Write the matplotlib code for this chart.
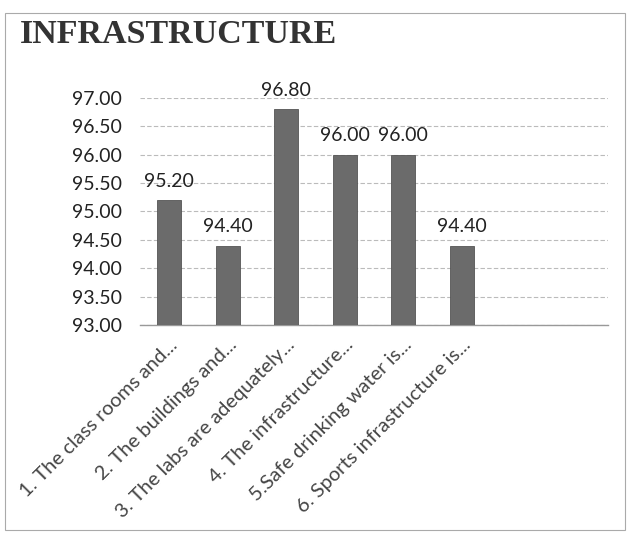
import matplotlib
matplotlib.use('Agg')
import matplotlib.pyplot as plt
from matplotlib.patches import Rectangle

# Данные
categories = ['1. The class rooms and...', '2. The buildings and...',
              '3. The labs are adequately...', '4. The infrastructure...',
              '5.Safe drinking water is...', '6. Sports infrastructure is...',
              '', '']
values = [95.20, 94.40, 96.80, 96.00, 96.00, 94.40]
y_ticks = [93.0, 93.5, 94.0, 94.5, 95.0, 95.5, 96.0, 96.5, 97.0]

fig = plt.figure(figsize=(6.3, 5.35), dpi=100)
ax = fig.add_axes([0.222, 0.3925, 0.743, 0.4245])

x = list(range(len(categories)))
bars = ax.bar(x[:len(values)], values, width=0.41, color='#6b6b6b',
              edgecolor='#555555', linewidth=0.6, zorder=3)

ax.set_xlim(-0.5, len(categories) - 0.5)
ax.set_ylim(93.0, 97.0)
ax.set_yticks(y_ticks)
ax.set_yticklabels([f'{v:.2f}' for v in y_ticks], fontsize=14,
                   family=['Lato', 'DejaVu Sans'], color='#222222')
ax.set_xticks(x)
ax.set_xticklabels(categories, rotation=45, ha='right', rotation_mode='anchor',
                   fontsize=14.5, family=['Lato', 'DejaVu Sans'], color='#444444')
ax.tick_params(axis='both', length=0)
ax.tick_params(axis='y', pad=13)
ax.tick_params(axis='x', pad=8)

ax.grid(axis='y', color='#bbbbbb', linestyle=(0, (4, 2)), linewidth=0.8, zorder=0)
for s in ['top', 'right', 'left']:
    ax.spines[s].set_visible(False)
ax.spines['bottom'].set_color('#999999')
ax.spines['bottom'].set_linewidth(1.0)

# Подписи значений
for bar in bars:
    h = bar.get_height()
    ax.text(bar.get_x() + bar.get_width() / 2, h + 0.18, f'{h:.2f}',
            ha='center', va='bottom', fontsize=14, family=['Lato', 'DejaVu Sans'],
            color='#222222')

fig.text(0.032, 0.935, 'INFRASTRUCTURE', fontsize=24.5, fontweight='bold',
         family=['Liberation Serif', 'DejaVu Serif'], color='#333333',
         ha='left', va='center')

fig.patches.append(Rectangle((0.008, 0.01), 0.984, 0.965, transform=fig.transFigure,
                             fill=False, edgecolor='#aaaaaa', linewidth=0.8))

plt.savefig('out.png', dpi=100)
